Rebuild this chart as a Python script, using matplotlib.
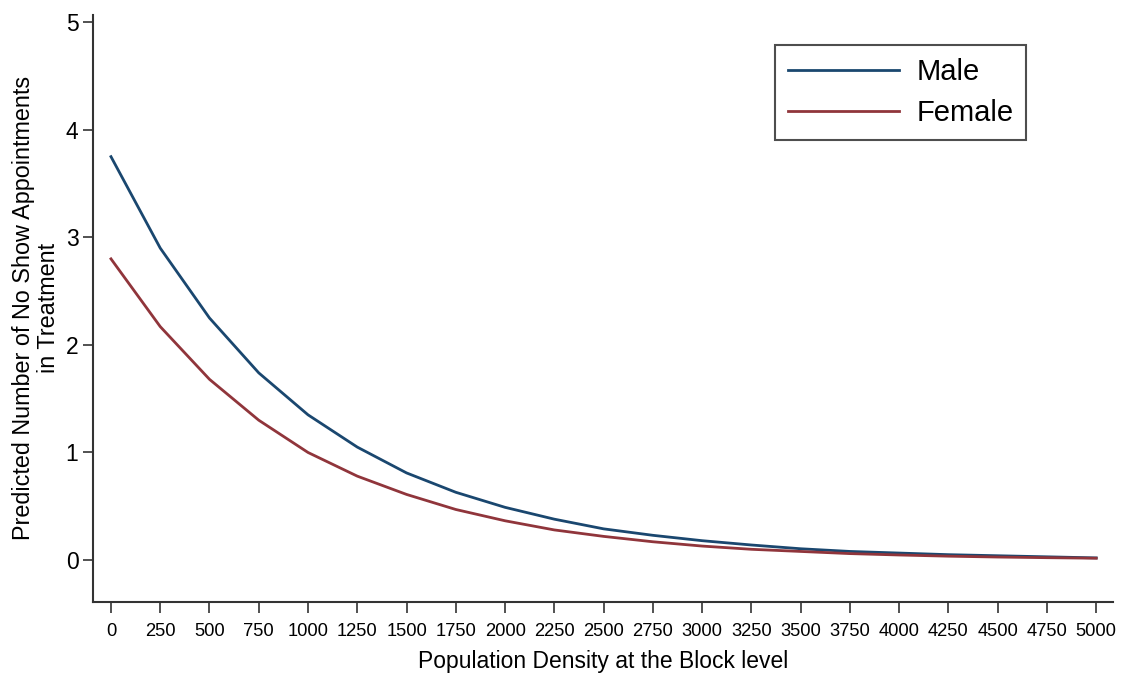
import matplotlib
matplotlib.use("Agg")
import matplotlib.pyplot as plt

plt.rcParams['font.family'] = ['Liberation Sans', 'DejaVu Sans']

density = [0, 250, 500, 750, 1000, 1250, 1500, 1750, 2000, 2250, 2500,
           2750, 3000, 3250, 3500, 3750, 4000, 4250, 4500, 4750, 5000]
male = [3.75, 2.90, 2.25, 1.74, 1.35, 1.05, 0.81, 0.63, 0.49, 0.38, 0.29,
        0.23, 0.18, 0.14, 0.105, 0.08, 0.065, 0.05, 0.04, 0.03, 0.02]
female = [2.80, 2.17, 1.68, 1.30, 1.00, 0.78, 0.61, 0.47, 0.365, 0.28, 0.22,
          0.17, 0.13, 0.10, 0.08, 0.06, 0.047, 0.036, 0.028, 0.022, 0.017]
y_ticks = [0, 1, 2, 3, 4, 5]

fig = plt.figure(figsize=(11.21, 6.79), dpi=100)
ax = fig.add_axes([0.083, 0.1134, 0.910, 0.865])

ax.plot(density, male, color='#1a476f', lw=2, label='Male')
ax.plot(density, female, color='#90353b', lw=2, label='Female')

ax.set_xlim(-91, 5086)
ax.set_ylim(-0.39, 5.07)
ax.set_xticks(density)
ax.set_xticklabels([str(d) for d in density], fontsize=13.2)
ax.set_yticks(y_ticks)
ax.tick_params(axis='y', labelsize=16.5, length=7, width=1.2, color='#333333')
ax.tick_params(axis='x', length=8, width=1.2, color='#333333', pad=7)

for s in ['top', 'right']:
    ax.spines[s].set_visible(False)
for s in ['left', 'bottom']:
    ax.spines[s].set_linewidth(1.5)
    ax.spines[s].set_color('#333333')

ax.set_xlabel('Population Density at the Block level', fontsize=16.5, labelpad=7)
ax.set_ylabel('Predicted Number of No Show Appointments\nin Treatment', fontsize=16.8,
              linespacing=1.1, labelpad=4)

leg = ax.legend(loc='upper right', bbox_to_anchor=(0.915, 0.949), borderaxespad=0,
                fontsize=21, frameon=True, fancybox=False, edgecolor='#222222',
                handlelength=3.8, handletextpad=0.6, borderpad=0.45, labelspacing=0.45)
leg.get_frame().set_linewidth(1.5)

fig.savefig('out.png', dpi=100)
